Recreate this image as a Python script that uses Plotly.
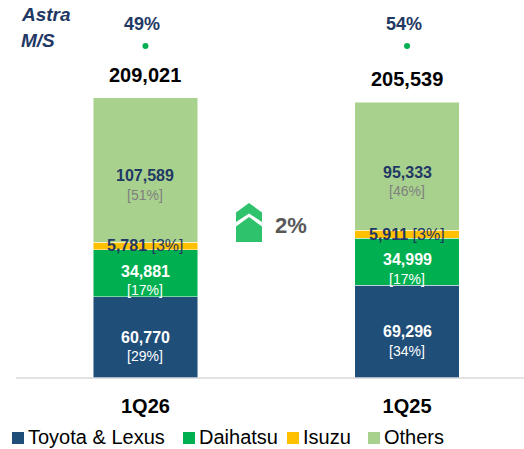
import plotly.graph_objects as go

# data
quarters = ['1Q26', '1Q25']
toyota = [60770, 69296]
daihatsu = [34881, 34999]
isuzu = [5781, 5911]
others = [107589, 95333]
toyota_pct = [29, 34]
daihatsu_pct = [17, 17]
isuzu_pct = [3, 3]
others_pct = [51, 46]
totals = [209021, 205539]
astra_ms = [49, 54]
growth_pct = 2

NAVY = '#1f3864'
FONT = 'Liberation Sans, Arial, sans-serif'
W, H = 524, 449
PLOT_H = 378  # plot area height in px (t=0, b=71)

series = [
    # name, values, pcts, color, value text color, pct text color, label shift
    ('Toyota & Lexus', toyota, toyota_pct, '#1f4e79', 'white', 'white', 0),
    ('Daihatsu', daihatsu, daihatsu_pct, '#00b050', 'white', 'white', 2),
    ('Isuzu', isuzu, isuzu_pct, '#ffc000', NAVY, NAVY, 0),
    ('Others', others, others_pct, '#a9d18e', NAVY, '#7f7f7f', -6),
]


def px(x):
    return x / W


def py(y):
    return (PLOT_H - y) / PLOT_H


def label(x, y, text, size, color, xanchor='center', **kw):
    # paper-positioned text, anchored on its middle
    return dict(x=x, y=y, xref='paper', yref='paper', text=text, showarrow=False,
                xanchor=xanchor, yanchor='middle',
                font=dict(family=FONT, size=size, color=color), **kw)


fig = go.Figure()

for name, vals, pcts, color, vcol, pcol, shift in series:
    fig.add_trace(go.Bar(x=quarters, y=vals, name=name, width=0.40,
                         marker=dict(color=color, line=dict(width=0.8, color='rgba(255,255,255,0.6)')),
                         showlegend=False, hoverinfo='skip'))

annotations = []

# segment labels
base = [0] * len(quarters)
for name, vals, pcts, color, vcol, pcol, shift in series:
    for i, q in enumerate(quarters):
        mid = base[i] + vals[i] / 2
        if name == 'Isuzu':
            annotations.append(dict(x=q, y=mid, text='<b>{:,}</b> [{}%]'.format(vals[i], pcts[i]),
                                    showarrow=False, yanchor='middle',
                                    font=dict(family=FONT, size=16, color=vcol)))
        else:
            annotations.append(dict(x=q, y=mid, yshift=shift, text='<b>{:,}</b>'.format(vals[i]),
                                    showarrow=False, yanchor='middle',
                                    font=dict(family=FONT, size=16, color=vcol)))
            annotations.append(dict(x=q, y=mid, yshift=shift - 19, text='[{}%]'.format(pcts[i]),
                                    showarrow=False, yanchor='middle',
                                    font=dict(family=FONT, size=14, color=pcol)))
        base[i] += vals[i]

# totals above bars
for i, q in enumerate(quarters):
    annotations.append(dict(x=q, y=totals[i], yshift=23, text='<b>{:,}</b>'.format(totals[i]),
                            showarrow=False, yanchor='middle',
                            font=dict(family=FONT, size=20, color='black')))

# Astra market share row
MS_DOT = py(46)
fig.add_trace(go.Scatter(x=quarters, y=[MS_DOT] * len(quarters), yaxis='y2', mode='markers',
                         marker=dict(size=6, color='#00b050'), showlegend=False, hoverinfo='skip'))
for i, q in enumerate(quarters):
    annotations.append(dict(x=q, y=py(24), xref='x', yref='paper', text='<b>{}%</b>'.format(astra_ms[i]),
                            showarrow=False, xshift=-3, yanchor='middle',
                            font=dict(family=FONT, size=18, color=NAVY)))

annotations.append(label(px(19), py(14), '<b><i>Astra</i></b>', 19, NAVY, xanchor='left'))
annotations.append(label(px(19), py(40), '<b><i>M/S</i></b>', 19, NAVY, xanchor='left'))

# growth
annotations.append(label(px(291), py(225), '<b>{}%</b>'.format(growth_pct), 22, '#595959'))


def path(points):
    return 'M ' + ' L '.join('{:.4f},{:.4f}'.format(px(a), py(b)) for a, b in points) + ' Z'


shapes = [
    # baseline
    dict(type='line', xref='paper', yref='paper', x0=px(16), x1=1, y0=0, y1=0,
         line=dict(color='#d9d9d9', width=1.5)),
    # double chevron
    dict(type='path', xref='paper', yref='paper', line=dict(width=0), fillcolor='#2dc26b',
         path=path([(249, 203), (262, 212.5), (262, 222), (249, 213.5), (236, 222), (236, 212.5)])),
    dict(type='path', xref='paper', yref='paper', line=dict(width=0), fillcolor='#2dc26b',
         path=path([(249, 217), (262, 226.5), (262, 242), (236, 242), (236, 226.5)])),
]

# legend drawn by hand to keep the tight spacing
legend_x = [12, 183, 287, 368]
for (name, vals, pcts, color, vcol, pcol, shift), lx in zip(series, legend_x):
    shapes.append(dict(type='rect', xref='paper', yref='paper', x0=px(lx), x1=px(lx + 12),
                       y0=py(432), y1=py(444), fillcolor=color, line=dict(width=0)))
    annotations.append(label(px(lx + 14), py(437), name, 20, 'black', xanchor='left'))

fig.update_layout(
    width=W, height=H,
    margin=dict(l=0, r=0, t=0, b=H - PLOT_H),
    barmode='stack',
    plot_bgcolor='white', paper_bgcolor='white',
    xaxis=dict(range=[-0.556, 1.447], showgrid=False, showline=False, ticks='',
               tickfont=dict(family=FONT, size=20, color='black', weight='bold'),
               ticklabelstandoff=14),
    yaxis=dict(range=[0, 282000], visible=False, showgrid=False),
    yaxis2=dict(range=[0, 1], overlaying='y', visible=False),
    annotations=annotations,
    shapes=shapes,
    showlegend=False,
)

fig.write_html('out.html', config={'displayModeBar': False},
               post_script="document.body.style.margin='0';")
